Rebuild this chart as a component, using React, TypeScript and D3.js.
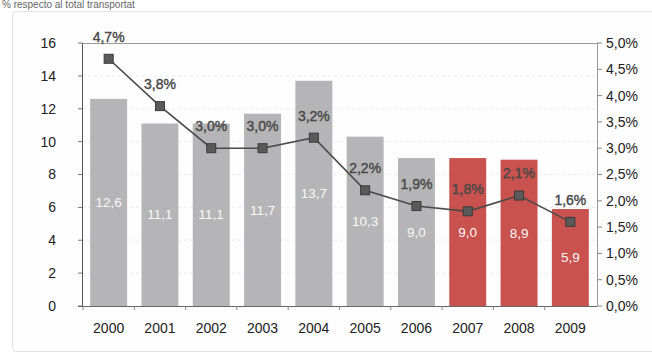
import React from "react";
import * as d3 from "d3";

const years = ["2000", "2001", "2002", "2003", "2004", "2005", "2006", "2007", "2008", "2009"];
const volume = [12.6, 11.1, 11.1, 11.7, 13.7, 10.3, 9.0, 9.0, 8.9, 5.9];
const share = [4.7, 3.8, 3.0, 3.0, 3.2, 2.2, 1.9, 1.8, 2.1, 1.6];
const highlighted = ["2007", "2008", "2009"];
const leftTicks = [0, 2, 4, 6, 8, 10, 12, 14, 16];
const rightTicks = [0, 0.5, 1, 1.5, 2, 2.5, 3, 3.5, 4, 4.5, 5];

const W = 652;
const H = 356;
const left = 82;
const right = 597;
const top = 43;
const bottom = 306;

const comma = (v: number) => v.toFixed(1).replace(".", ",");

export default function App() {
  const x = d3.scaleBand<string>().domain(years).range([left + 1, right - 1]).paddingInner(0.28).paddingOuter(0.14);
  const y = d3.scaleLinear().domain([0, 16]).range([bottom, top]);
  const y2 = d3.scaleLinear().domain([0, 5]).range([bottom, top]);
  const cx = (yr: string) => (x(yr) ?? 0) + x.bandwidth() / 2;

  const line = d3
    .line<number>()
    .x((d, i) => cx(years[i]))
    .y((d) => y2(d));

  const font = "'Liberation Sans', Arial, sans-serif";

  return (
    <svg width={W} height={H} style={{ position: "absolute", left: 0, top: 0, background: "#fff" }} fontFamily={font}>
      <text x={2} y={8} fontSize={10} fill="#666">% respecto al total transportat</text>
      <rect x={12.5} y={11.5} width={700} height={340} rx={3} fill="#fdfdfd" stroke="#e2e2e2" />

      {/* faint grid */}
      {leftTicks.slice(1, -1).map((t) => (
        <line key={t} x1={left} x2={right} y1={y(t)} y2={y(t)} stroke="#ebebeb" strokeDasharray="3,3" />
      ))}
      <line x1={left} x2={right} y1={top + 0.5} y2={top + 0.5} stroke="#9a9a9a" />
      <line x1={right + 0.5} x2={right + 0.5} y1={top} y2={bottom} stroke="#9a9a9a" />

      {/* bars */}
      {years.map((yr, i) => (
        <rect
          key={yr}
          x={x(yr)}
          y={y(volume[i])}
          width={x.bandwidth()}
          height={bottom - y(volume[i])}
          fill={highlighted.includes(yr) ? "#c9524e" : "#b5b5b7"}
        />
      ))}
      {years.map((yr, i) => (
        <text
          key={yr}
          x={cx(yr)}
          y={y(volume[i] / 2)}
          dy="0.35em"
          textAnchor="middle"
          fontSize={13.5}
          fill="#f8f8f8"
        >
          {comma(volume[i])}
        </text>
      ))}

      {/* left axis */}
      <line x1={left + 0.5} x2={left + 0.5} y1={top} y2={bottom} stroke="#555" />
      {leftTicks.map((t) => (
        <g key={t}>
          <line x1={left - 4} x2={left} y1={y(t)} y2={y(t)} stroke="#777" />
          <text x={56} y={y(t)} dy="0.35em" textAnchor="end" fontSize={14} fill="#222">
            {t}
          </text>
        </g>
      ))}

      {/* right axis */}
      {rightTicks.map((t) => (
        <g key={t}>
          <line x1={right} x2={right + 5} y1={y2(t)} y2={y2(t)} stroke="#888" />
          <text x={606} y={y2(t)} dy="0.35em" fontSize={14} fill="#222">
            {comma(t)}%
          </text>
        </g>
      ))}

      {/* bottom axis */}
      <line x1={left - 4} x2={right} y1={bottom + 0.5} y2={bottom + 0.5} stroke="#666" />
      {years.map((yr) => (
        <line
          key={yr}
          x1={(x(yr) ?? 0) - (x.step() - x.bandwidth()) / 2}
          x2={(x(yr) ?? 0) - (x.step() - x.bandwidth()) / 2}
          y1={bottom}
          y2={bottom + 4}
          stroke="#888"
        />
      ))}
      {years.map((yr) => (
        <text key={yr} x={cx(yr)} y={328} dy="0.35em" textAnchor="middle" fontSize={14} fill="#222">
          {yr}
        </text>
      ))}

      {/* share line */}
      <path d={line(share) ?? ""} fill="none" stroke="#4a4a4a" strokeWidth={1.6} />
      {years.map((yr, i) => (
        <rect
          key={yr}
          x={cx(yr) - 4.5}
          y={y2(share[i]) - 4.5}
          width={9}
          height={9}
          fill="#5a5a5a"
          stroke="#3a3a3a"
        />
      ))}
      {years.map((yr, i) => (
        <text
          key={yr}
          x={cx(yr)}
          y={y2(share[i]) - 22}
          dy="0.35em"
          textAnchor="middle"
          fontSize={14}
          fill="#484848"
          stroke="#484848"
          strokeWidth={0.4}
        >
          {comma(share[i])}%
        </text>
      ))}
    </svg>
  );
}
